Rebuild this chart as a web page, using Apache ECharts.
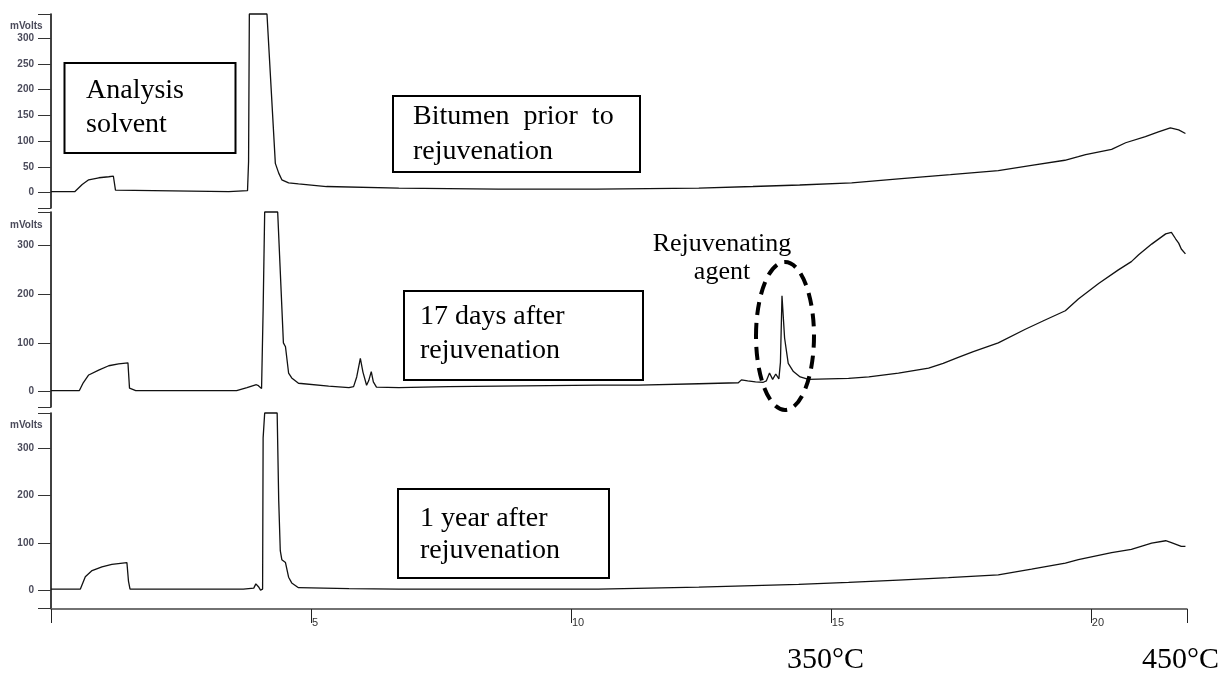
<!DOCTYPE html>
<html><head><meta charset="utf-8">
<script src="https://cdn.jsdelivr.net/npm/echarts@6/dist/echarts.min.js"></script>
<style>html,body{margin:0;padding:0;background:#fff}#c{width:1228px;height:673px}</style>
</head><body><div id="c"></div>
<script>
// ---- axis ranges (mVolts) ----
const yMin1 = -29.7, yMax1 = 347;
const yMin2 = -31.8, yMax2 = 369;
const yMin3 = -36.9, yMax3 = 374.5;
const xMin = 0, xMax = 21.85;
const yTicks1 = [0, 50, 100, 150, 200, 250, 300];
const yTicks23 = [0, 100, 200, 300];
const xTicks = [5, 10, 15, 20];

// ---- Bitumen prior to rejuvenation (minutes, mVolts) ----
const timeBefore = [0, 0.456, 0.6, 0.725, 0.92, 1.11, 1.2, 1.24, 1.27, 3.42, 3.45, 3.78, 3.8, 3.815, 4.154, 4.315, 4.38, 4.44, 4.57, 4.76, 5.3, 6.69, 8.6, 10.5, 12.46, 13.5, 14.4, 15.4, 16.3, 17.3, 18.22, 18.86, 19.5, 19.76, 19.9, 20.4, 20.67, 21.05, 21.3, 21.53, 21.69, 21.82];
const voltsBefore = [2, 2, 16, 25, 29, 31, 32, 5, 2, 2, 4, 4, 60, 347, 347, 57, 38, 25, 19, 17, 12, 9, 7, 7, 9, 12, 15, 19, 27, 35, 43, 53, 63, 70, 74, 84, 97, 109, 118, 126, 122, 115];

// ---- 17 days after rejuvenation ----
const time17d = [0, 0.546, 0.62, 0.725, 0.917, 1.11, 1.30, 1.48, 1.51, 1.63, 3.57, 3.58, 3.77, 3.95, 3.99, 4.05, 4.08, 4.11, 4.36, 4.47, 4.51, 4.57, 4.63, 4.76, 5.34, 5.73, 5.82, 5.88, 5.95, 6.0, 6.07, 6.11, 6.16, 6.2, 6.26, 6.69, 7.65, 8.61, 9.57, 10.53, 11.3, 12.46, 13.22, 13.28, 13.4, 13.55, 13.7, 13.76, 13.82, 13.88, 13.94, 14.0, 14.03, 14.06, 14.11, 14.15, 14.18, 14.28, 14.41, 14.57, 14.95, 15.34, 15.73, 16.3, 16.88, 17.16, 17.45, 17.74, 18.22, 18.74, 19.1, 19.51, 19.76, 20.15, 20.53, 20.78, 20.92, 21.17, 21.44, 21.55, 21.63, 21.69, 21.74, 21.82];
const volts17d = [2, 2, 18, 34, 44, 53, 57, 59, 7, 2, 2, 5, 8, 14, 12, 6, 167, 369, 369, 100, 92, 38, 28, 17, 11, 8, 10, 30, 68, 40, 13, 22, 41, 20, 9, 8, 10, 11, 12, 13, 13, 16, 18, 24, 22, 20, 19, 22, 38, 25, 36, 26, 60, 197, 110, 80, 58, 41, 30, 25, 26, 27, 30, 38, 48, 58, 70, 82, 100, 128, 146, 166, 190, 222, 250, 267, 281, 303, 324, 327, 314, 305, 293, 283];

// ---- 1 year after rejuvenation ----
const time1y = [0, 0.565, 0.66, 0.79, 0.98, 1.17, 1.46, 1.49, 1.52, 3.7, 3.72, 3.9, 3.94, 3.99, 4.03, 4.07, 4.08, 4.11, 4.35, 4.38, 4.41, 4.44, 4.51, 4.57, 4.63, 4.76, 5.73, 6.69, 8.61, 10.53, 12.46, 14.38, 15.34, 16.3, 17.26, 18.22, 18.86, 19.51, 19.76, 20.4, 20.78, 21.17, 21.44, 21.55, 21.74, 21.82];
const volts1y = [3, 3, 29, 42, 50, 55, 59, 20, 3, 3, 5, 5, 14, 8, 1, 3, 322, 374.5, 374.5, 190, 84, 65, 59, 28, 16, 6, 4, 3, 3, 3, 7, 13, 17, 22, 27, 33, 45, 58, 65, 80, 87, 100, 105, 101, 93, 93];

const zip = (t, v) => t.map((x, i) => [x, v[i]]);
const chart = echarts.init(document.getElementById('c'));

const gridL = 51, gridW = 1136;
const grids = [
  {left: gridL, width: gridW, top: 14, height: 194},
  {left: gridL, width: gridW, top: 212, height: 195},
  {left: gridL, width: gridW, top: 413, height: 195}
];
function mkY(i, min, max, labels) {
  return {
    type: 'value', gridIndex: i, min: min, max: max,
    axisLine: {show: true, onZero: false, lineStyle: {color: '#111', width: 1.6}},
    axisTick: {show: true, length: 13, customValues: [min].concat(labels, [max]), lineStyle: {color: '#333', width: 1}},
    axisLabel: {customValues: labels, margin: 17, fontSize: 10, fontWeight: 'bold', color: '#4a4a5a', fontFamily: 'Liberation Sans'},
    splitLine: {show: false}
  };
}
function mkX(i, show) {
  return {
    type: 'value', gridIndex: i, min: xMin, max: xMax, show: show, offset: 1,
    axisLine: {show: true, onZero: false, lineStyle: {color: '#444', width: 1.5}},
    axisTick: {show: true, length: 14, customValues: [xMin].concat(xTicks, [xMax]), lineStyle: {color: '#222', width: 1}},
    axisLabel: {customValues: xTicks, margin: 8, align: 'left', padding: [0, 0, 0, 1], fontSize: 11, color: '#333', fontFamily: 'Liberation Sans'},
    splitLine: {show: false}
  };
}
const lineStyle = {color: '#111', width: 1.3};
function mkS(i, t, v) {
  return {type: 'line', xAxisIndex: i, yAxisIndex: i, data: zip(t, v), showSymbol: false, symbol: 'none', clip: false, lineStyle: lineStyle, animation: false};
}
const serif = 'Liberation Serif';
function txt(s, x, y, size, align) {
  return {type: 'text', z: 100, style: {text: s, x: x, y: y, fill: '#000', fontSize: size, fontFamily: serif, align: align || 'left', verticalAlign: 'middle'}};
}
function box(x, y, w, h) {
  return {type: 'rect', z: 99, shape: {x: x, y: y, width: w, height: h}, style: {fill: 'rgba(0,0,0,0)', stroke: '#000', lineWidth: 2}};
}
function mv(y) {
  return {type: 'text', z: 100, style: {text: 'mVolts', x: 10, y: y, fill: '#4a4a5a', fontSize: 10, fontWeight: 'bold', fontFamily: 'Liberation Sans', verticalAlign: 'middle'}};
}

chart.setOption({
  animation: false,
  backgroundColor: '#fff',
  grid: grids,
  xAxis: [mkX(0, false), mkX(1, false), mkX(2, true)],
  yAxis: [mkY(0, yMin1, yMax1, yTicks1), mkY(1, yMin2, yMax2, yTicks23), mkY(2, yMin3, yMax3, yTicks23)],
  series: [mkS(0, timeBefore, voltsBefore), mkS(1, time17d, volts17d), mkS(2, time1y, volts1y)],
  graphic: [
    mv(26), mv(225), mv(425),
    box(64.5, 63, 171, 90), txt('Analysis', 86, 91, 28), txt('solvent', 86, 125, 28),
    box(393, 96, 247, 76), txt('Bitumen  prior  to', 413, 117, 28), txt('rejuvenation', 413, 152, 28),
    box(404, 291, 239, 89), txt('17 days after', 420, 317, 28), txt('rejuvenation', 420, 351, 28),
    box(398, 489, 211, 89), txt('1 year after', 420, 519, 28), txt('rejuvenation', 420, 551, 28),
    txt('Rejuvenating', 722, 244, 26, 'center'), txt('agent', 722, 272, 26, 'center'),
    {type: 'ellipse', z: 100, shape: {cx: 785, cy: 336, rx: 29, ry: 74}, style: {fill: 'rgba(0,0,0,0)', stroke: '#000', lineWidth: 4, lineDash: [13, 8]}},
    txt('350°C', 787, 660, 30), txt('450°C', 1142, 660, 30)
  ]
});
</script></body></html>
